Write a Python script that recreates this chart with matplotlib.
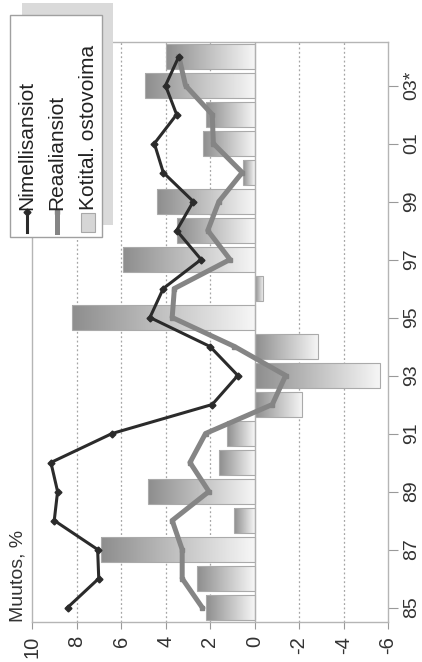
import numpy as np
import matplotlib.pyplot as plt
from matplotlib.colors import LinearSegmentedColormap
from matplotlib.patches import Rectangle
from matplotlib.lines import Line2D

plt.rcParams['font.family'] = ['Liberation Sans', 'DejaVu Sans']

## data (chart is drawn turned 90 degrees, like the reference)
years = ['85', '86', '87', '88', '89', '90', '91', '92', '93', '94',
         '95', '96', '97', '98', '99', '00', '01', '02', '03', '04']
year_labels = ['85', '87', '89', '91', '93', '95', '97', '99', '01', '03*']
nimellisansiot = [8.4, 7.0, 7.05, 9.0, 8.85, 9.15, 6.4, 1.9, 0.75, 2.0,
                  4.7, 4.1, 2.4, 3.5, 2.75, 4.1, 4.5, 3.5, 4.0, 3.4]
reaaliansiot = [2.35, 3.25, 3.25, 3.7, 2.05, 2.9, 2.2, -0.8, -1.4, 0.9,
                3.7, 3.6, 1.1, 2.1, 1.6, 0.55, 1.85, 1.9, 3.1, 3.4]
ostovoima = [2.2, 2.6, 6.9, 0.9, 4.8, 1.6, 1.25, -2.15, -5.65, -2.85,
             8.2, -0.4, 5.9, 3.5, 4.4, 0.5, 2.3, 2.2, 4.9, 4.0]
value_ticks = [10, 8, 6, 4, 2, 0, -2, -4, -6]
value_labels = ['10', '8', '6', '4', '2', '0', '-2', '-4', '-6']

W, H = 422, 662
fig = plt.figure(figsize=(W / 100, H / 100), dpi=100)
ax = fig.add_axes([32 / W, 1 - 622 / H, 356 / W, 580 / H])

pos = np.arange(len(years))

## bars with a grey gradient
cmap = LinearSegmentedColormap.from_list('g', ['#8e8e8e', '#f6f6f6'])
grad = np.linspace(0, 1, 100).reshape(1, -1)
bars = ax.barh(pos, ostovoima, height=0.85, facecolor='none',
               edgecolor='#aaaaaa', lw=0.8, zorder=3)
for b, v in zip(bars, ostovoima):
    lo, hi = min(0, v), max(0, v)
    y0, h = b.get_y(), b.get_height()
    im = ax.imshow(grad, cmap=cmap, extent=(hi, lo, y0, y0 + h),
                   aspect='auto', zorder=2, interpolation='bilinear')
    im.set_clip_path(b)

## grid
for v in [8, 6, 4, 2, -2, -4]:
    ax.axvline(v, color='#a5a5a5', ls=(0, (1.5, 2)), lw=0.9, zorder=1)
ax.axvline(0, color='#b0b0b0', lw=1, zorder=3.5)

## lines
ax.plot(reaaliansiot, pos, color='#858585', lw=3.6, marker='s', ms=3.5, zorder=4)
ax.plot(nimellisansiot, pos, color='#2b2b2b', lw=2.2, marker='D', ms=3.5, zorder=5)

ax.set_xlim(10, -6)
ax.set_ylim(-0.5, 19.5)

for s in ax.spines.values():
    s.set_color('#b5b5b5')
    s.set_linewidth(1)

ax.set_xticks(value_ticks)
ax.set_xticklabels(value_labels, rotation=90, fontsize=14.5, color='#333333')
ax.tick_params(axis='x', length=5, color='#999999', pad=5)
ax.yaxis.tick_right()
ax.set_yticks(pos[::2])
ax.set_yticklabels(year_labels, rotation=90, va='center', fontsize=14, color='#333333')
ax.tick_params(axis='y', length=7, color='#999999', pad=4)

fig.text(18 / W, 1 - 576 / H, 'Muutos, %', rotation=90, ha='center', va='center',
         fontsize=14, color='#333333')

## legend, drawn by hand because it is turned too
fig.add_artist(Rectangle((22 / W, 1 - 225 / H), 91 / W, 222 / H, transform=fig.transFigure,
                         facecolor='#dadada', edgecolor='none', zorder=10))
fig.add_artist(Rectangle((10 / W, 1 - 237 / H), 92 / W, 222 / H, transform=fig.transFigure,
                         facecolor='white', edgecolor='#a0a0a0', lw=1, zorder=11))
fig.add_artist(Line2D([27 / W, 27 / W], [1 - 232 / H, 1 - 212 / H], transform=fig.transFigure,
                      color='#2b2b2b', lw=2.2, marker='D', ms=3.5, markevery=[1], zorder=12))
fig.add_artist(Line2D([57 / W, 57 / W], [1 - 232 / H, 1 - 212 / H], transform=fig.transFigure,
                      color='#858585', lw=3.6, marker='s', ms=3.5, markevery=[1], zorder=12))
fig.add_artist(Rectangle((81 / W, 1 - 232 / H), 14 / W, 19 / H, transform=fig.transFigure,
                         facecolor='#d6d6d6', edgecolor='#a8a8a8', lw=0.8, zorder=12))
for x, lab in [(27, 'Nimellisansiot'), (57, 'Reaaliansiot'), (88, 'Kotital. ostovoima')]:
    fig.text(x / W, 1 - 210 / H, lab, rotation=90, ha='center', va='bottom',
             fontsize=15, color='#222222', zorder=13)

fig.savefig('out.png', dpi=100)
